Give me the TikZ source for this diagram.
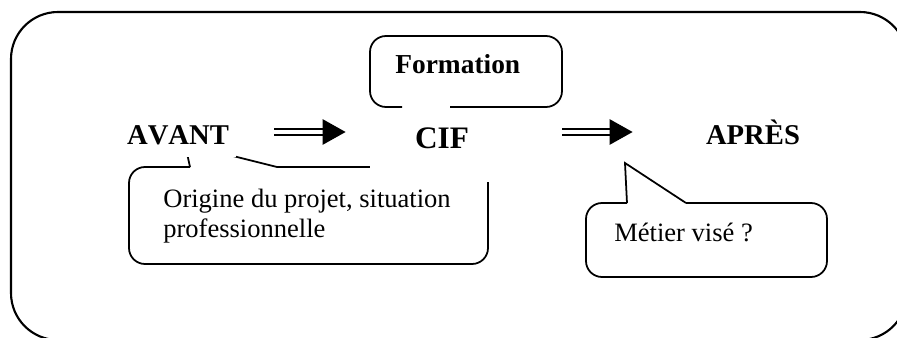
\documentclass[tikz,border=0pt]{standalone}
\usepackage{fontspec}
\setmainfont{Liberation Serif}[Kerning=Off]
\usetikzlibrary{arrows.meta,calc}

\begin{document}
\begin{tikzpicture}[x=0.02cm, y=-0.02cm,
    cadre/.style={line width=1.2pt, rounded corners=0.94cm},
    bulle/.style={line width=1pt, rounded corners=0.32cm},
    pointe/.style={line width=1pt, line join=miter},
    etape/.style={font=\bfseries\fontsize{16.3}{19}\selectfont, fill=white, inner sep=0pt,
        minimum width=2.32cm, text height=0.76cm, text depth=0.24cm},
    texte/.style={font=\fontsize{15.1}{17}\selectfont, inner sep=0pt, align=left, anchor=base west},
    fleche/.style={double, line width=1.5pt, double distance=1.9pt, -{Triangle[length=0.46cm,width=0.5cm]}}]
        \useasboundingbox (0,0) rectangle (897,338);
        \clip (0,0) rectangle (897,338);

        % Cornice esterna
        \draw[cadre] (11,12) rectangle (907,340);

        % Riquadro Formation, aperto in basso
        \draw[bulle] (402,107) -- (370,107) -- (370,36) -- (562,36) -- (562,107) -- (450,107);
        \node[texte, font=\bfseries\fontsize{15.6}{18}\selectfont] (formation) at (395,73) {Formation};

        % Fumetto sotto AVANT
        \draw[bulle] (190,167) -- (129,167) -- (129,264) -- (488,264) -- (488,167) -- (277,167);
        \draw[pointe] (190,167) -- (185,144) -- (277,167); % punta nascosta da AVANT
        \node[texte] (origine) at (163,237) {Origine du projet, situation\\professionnelle}; % ancorato all'ultima riga

        % Fumetto sotto APRÈS
        \draw[bulle] (627,203) -- (586,203) -- (586,277) -- (827,277) -- (827,203) -- (686,203);
        \draw[pointe] (627,203) -- (625,163) -- (686,203);
        \node[texte] (metier) at (614,241) {Métier visé ?};

        % Le tre tappe
        \node[etape] (avant) at (178,132) {AVANT};
        \node[etape, minimum width=2.88cm, text height=0.72cm, text depth=0.68cm,
            font=\bfseries\fontsize{17.8}{20}\selectfont] (cif) at (442,147) {CIF};
        \node[etape] (apres) at (753,132) {APRÈS};

        % Frecce doppie
        \draw[fleche] ($(avant.east)+(38,0)$) -- ($(avant.east -| cif.west)+(-24,0)$);
        \draw[fleche] ($(avant.east -| cif.east)+(48,0)$) -- ($(avant.east -| apres.west)+(-62,0)$);
    \end{tikzpicture}
\end{document}
